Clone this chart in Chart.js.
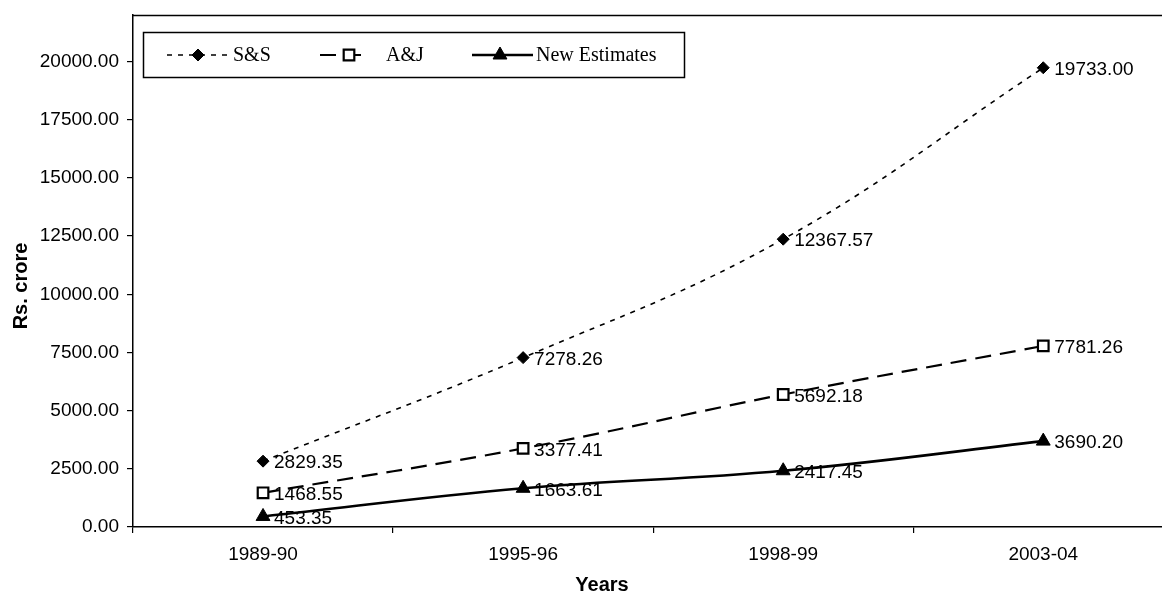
<!DOCTYPE html>
<html>
<head>
<meta charset="utf-8">
<script src="https://cdn.jsdelivr.net/npm/chart.js@4.4.1/dist/chart.umd.min.js"></script>
<style>
  html, body { margin: 0; padding: 0; background: #ffffff; overflow: hidden; }
  #wrap { width: 1183px; height: 600px; }
</style>
</head>
<body>
<div id="wrap"><canvas id="chart" width="1183" height="600"></canvas></div>
<script>
// Years on the category axis
const categories = ['1989-90', '1995-96', '1998-99', '2003-04'];

// Estimates in Rs. crore
const ssValues = [2829.35, 7278.26, 12367.57, 19733.00];
const ajValues = [1468.55, 3377.41, 5692.18, 7781.26];
const newEstimateValues = [453.35, 1663.61, 2417.45, 3690.20];

const seriesNames = ['S&S', 'A&J', 'New Estimates'];

// Value axis ticks
const yTickValues = [0, 2500, 5000, 7500, 10000, 12500, 15000, 17500, 20000];
const yMin = 0;
const yMax = 22000;

const yTitle = 'Rs. crore';
const xTitle = 'Years';

const numFont = '19px "Liberation Sans", Arial, sans-serif';
const titleFont = 'bold 20px "Liberation Sans", Arial, sans-serif';
const legendFont = '20px "Liberation Serif", "Times New Roman", serif';

const datasets = [
  {
    label: seriesNames[0],
    data: ssValues,
    borderColor: '#000',
    borderWidth: 1.6,
    borderDash: [5, 6],
    tension: 0.4,
    pointStyle: 'rectRot',
    pointRadius: 6,
    pointBackgroundColor: '#000',
    pointBorderColor: '#000',
    pointBorderWidth: 1
  },
  {
    label: seriesNames[1],
    data: ajValues,
    borderColor: '#000',
    borderWidth: 2.2,
    borderDash: [16, 9],
    tension: 0.4,
    pointStyle: 'rect',
    pointRadius: 7.5,
    pointBackgroundColor: '#fff',
    pointBorderColor: '#000',
    pointBorderWidth: 2.2
  },
  {
    label: seriesNames[2],
    data: newEstimateValues,
    borderColor: '#000',
    borderWidth: 2.6,
    borderDash: [],
    tension: 0.4,
    pointStyle: 'triangle',
    pointRadius: 8,
    pointBackgroundColor: '#000',
    pointBorderColor: '#000',
    pointBorderWidth: 1
  }
];

// Value labels beside each marker, plus frame, axis titles and legend box
const decorations = {
  id: 'decorations',
  afterDatasetsDraw(chart) {
    const ctx = chart.ctx;
    ctx.save();
    ctx.fillStyle = '#000';
    ctx.font = numFont;
    ctx.textAlign = 'left';
    ctx.textBaseline = 'middle';
    chart.data.datasets.forEach((ds, i) => {
      const meta = chart.getDatasetMeta(i);
      meta.data.forEach((pt, j) => {
        ctx.fillText(ds.data[j].toFixed(2), pt.x + 11, pt.y + 2);
      });
    });
    ctx.restore();
  },
  afterDraw(chart) {
    const ctx = chart.ctx;
    const area = chart.chartArea;
    ctx.save();

    // plot frame (top edge)
    ctx.strokeStyle = '#000';
    ctx.lineWidth = 1.5;
    ctx.beginPath();
    ctx.moveTo(area.left, area.top + 0.5);
    ctx.lineTo(area.right, area.top + 0.5);
    ctx.stroke();

    // axis titles
    ctx.fillStyle = '#000';
    ctx.font = titleFont;
    ctx.textAlign = 'center';
    ctx.textBaseline = 'middle';
    ctx.fillText(xTitle, 602, 585);
    ctx.save();
    ctx.translate(21, 286);
    ctx.rotate(-Math.PI / 2);
    ctx.fillText(yTitle, 0, 0);
    ctx.restore();

    // legend
    const box = { x: 143.5, y: 32.5, w: 541, h: 45 };
    ctx.lineWidth = 1.5;
    ctx.strokeRect(box.x, box.y, box.w, box.h);
    const cy = box.y + box.h / 2;
    const items = [
      { x0: 167, x1: 229, mx: 198, tx: 233 },
      { x0: 320, x1: 362, mx: 349, tx: 386 },
      { x0: 472, x1: 533, mx: 500, tx: 536 }
    ];
    chart.data.datasets.forEach((ds, i) => {
      const it = items[i];
      ctx.save();
      ctx.strokeStyle = ds.borderColor;
      ctx.lineWidth = ds.borderWidth;
      ctx.setLineDash(ds.borderDash);
      ctx.beginPath();
      ctx.moveTo(it.x0, cy);
      ctx.lineTo(it.x1, cy);
      ctx.stroke();
      ctx.setLineDash([]);
      ctx.fillStyle = ds.pointBackgroundColor;
      ctx.strokeStyle = ds.pointBorderColor;
      ctx.lineWidth = ds.pointBorderWidth;
      Chart.helpers.drawPoint(ctx, {
        pointStyle: ds.pointStyle,
        radius: ds.pointRadius,
        borderWidth: ds.pointBorderWidth,
        rotation: 0
      }, it.mx, cy);
      ctx.restore();
      ctx.fillStyle = '#000';
      ctx.font = legendFont;
      ctx.textAlign = 'left';
      ctx.textBaseline = 'middle';
      ctx.fillText(ds.label, it.tx, cy + 1);
    });
    ctx.restore();
  }
};

new Chart(document.getElementById('chart'), {
  type: 'line',
  data: { labels: categories, datasets },
  options: {
    responsive: false,
    animation: false,
    devicePixelRatio: 1,
    layout: { padding: { top: 15, right: 0, left: 0, bottom: 0 } },
    plugins: {
      legend: { display: false },
      tooltip: { enabled: false }
    },
    scales: {
      x: {
        type: 'category',
        offset: true,
        afterFit(scale) {
          scale.height = 73;
          scale.paddingLeft = 0;
          scale.paddingRight = 0;
        },
        grid: {
          offset: true,
          drawOnChartArea: false,
          drawTicks: true,
          tickLength: 6,
          color: '#000',
          lineWidth: 1.2
        },
        border: { display: true, color: '#000', width: 1.5 },
        ticks: {
          color: '#000',
          font: { family: '"Liberation Sans", Arial, sans-serif', size: 19 },
          padding: 10,
          maxRotation: 0
        }
      },
      y: {
        min: yMin,
        max: yMax,
        afterFit(scale) {
          scale.width = 133;
          scale.paddingTop = 0;
          scale.paddingBottom = 0;
        },
        afterBuildTicks(scale) {
          scale.ticks = yTickValues.map(v => ({ value: v }));
        },
        grid: {
          drawOnChartArea: false,
          drawTicks: true,
          tickLength: 6,
          color: '#000',
          lineWidth: 1.2
        },
        border: { display: true, color: '#000', width: 1.5 },
        ticks: {
          autoSkip: false,
          color: '#000',
          padding: 8,
          font: { family: '"Liberation Sans", Arial, sans-serif', size: 19 },
          callback: v => Number(v).toFixed(2)
        }
      }
    }
  },
  plugins: [decorations]
});
</script>
</body>
</html>
